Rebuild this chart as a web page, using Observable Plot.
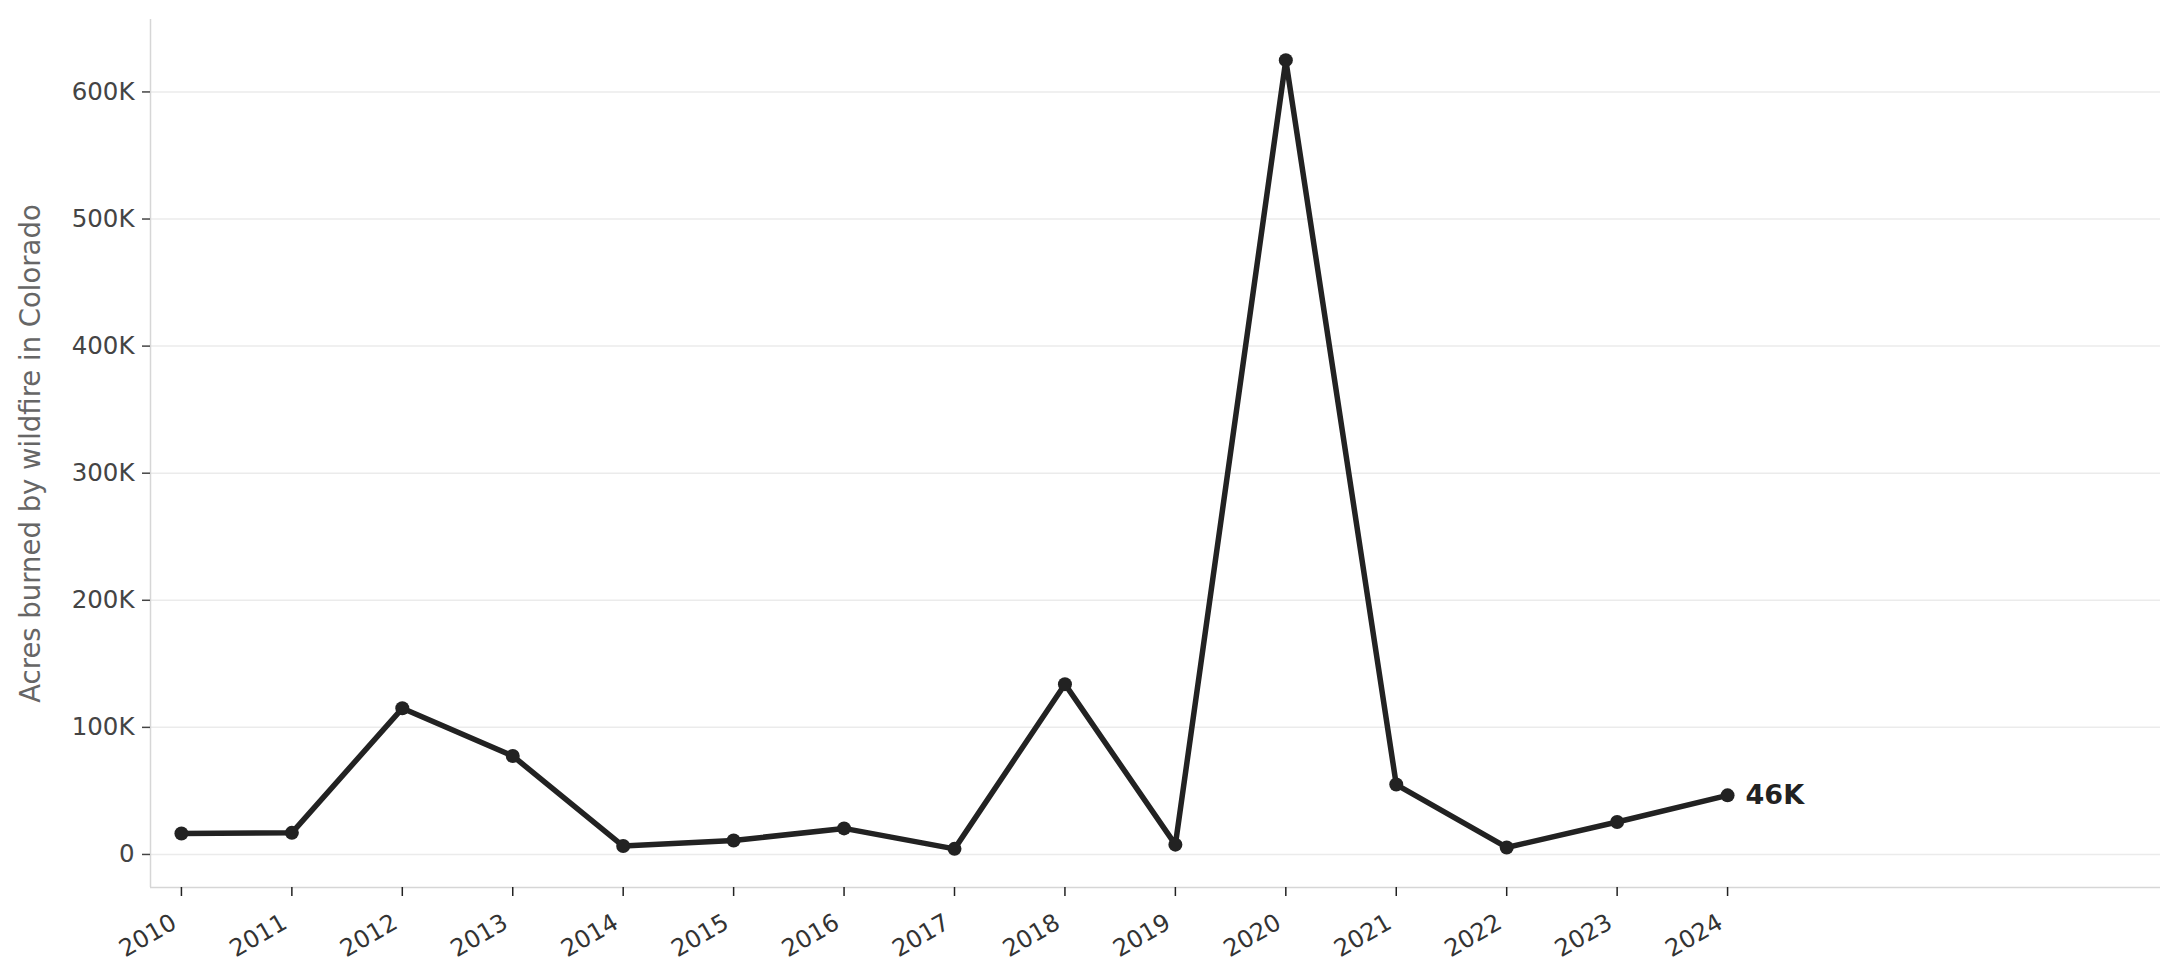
<!DOCTYPE html>
<html>
<head>
<meta charset="utf-8">
<script src="https://cdn.jsdelivr.net/npm/d3@7"></script>
<script src="https://cdn.jsdelivr.net/npm/@observablehq/plot@0.6"></script>
<style>
  html, body { margin: 0; padding: 0; background: #fff; }
  #chart svg { display: block; }
</style>
</head>
<body>
<div id="chart"></div>
<script>
const years = [2010, 2011, 2012, 2013, 2014, 2015, 2016, 2017, 2018, 2019, 2020, 2021, 2022, 2023, 2024];
const acres = [16500, 17000, 115000, 77500, 6600, 11000, 20500, 4400, 134000, 7700, 625000, 55000, 5500, 25500, 46500];
const yTicks = [0, 100000, 200000, 300000, 400000, 500000, 600000];
const lastLabel = "46K";
const yLabel = "Acres burned by wildfire in Colorado";

const data = years.map((y, i) => ({year: y, acres: acres[i]}));
const last = data[data.length - 1];

const xDomain = [2009.72, 2027.92];
const yDomain = [-26000, 657000];

const chart = Plot.plot({
  width: 2181,
  height: 980,
  marginLeft: 150,
  marginRight: 21,
  marginTop: 19,
  marginBottom: 93,
  style: {fontFamily: "DejaVu Sans", background: "#fff", color: "#444"},
  x: {type: "linear", domain: xDomain},
  y: {domain: yDomain},
  marks: [
    Plot.gridY(yTicks, {stroke: "#ebebeb", strokeOpacity: 1, strokeWidth: 1.5}),
    Plot.ruleX([xDomain[0]], {stroke: "#d6d6d6", strokeWidth: 1.5}),
    Plot.ruleY([yDomain[0]], {stroke: "#d6d6d6", strokeWidth: 1.5}),
    Plot.axisY({
      ticks: yTicks,
      tickFormat: d => d === 0 ? "0" : (d / 1000) + "K",
      tickSize: 8,
      tickPadding: 8,
      fontSize: 24.5,
      stroke: "#444",
      fill: "#444",
      strokeWidth: 1.5,
      label: null
    }),
    Plot.axisX({
      ticks: years,
      tickFormat: d => String(d),
      tickSize: 9,
      strokeWidth: 1.5,
      stroke: "#222",
      text: null,
      label: null
    }),
    Plot.axisX({
      ticks: years,
      tickFormat: d => String(d),
      tickSize: 0,
      tickPadding: 33,
      tickRotate: -30,
      dx: -7,
      fontSize: 24,
      fill: "#333",
      label: null
    }),
    Plot.text([yLabel], {
      frameAnchor: "left",
      dx: -119,
      rotate: -90,
      fontSize: 27.5,
      fill: "#666",
      textAnchor: "middle"
    }),
    Plot.line(data, {x: "year", y: "acres", stroke: "#222", strokeWidth: 5.5, strokeLinejoin: "round"}),
    Plot.dot(data, {x: "year", y: "acres", r: 7, fill: "#222", stroke: "none"}),
    Plot.text([last], {
      x: "year", y: "acres", text: () => lastLabel,
      dx: 18, textAnchor: "start", fontWeight: "bold", fontSize: 27, fill: "#222"
    })
  ]
});
document.getElementById("chart").appendChild(chart);
</script>
</body>
</html>
